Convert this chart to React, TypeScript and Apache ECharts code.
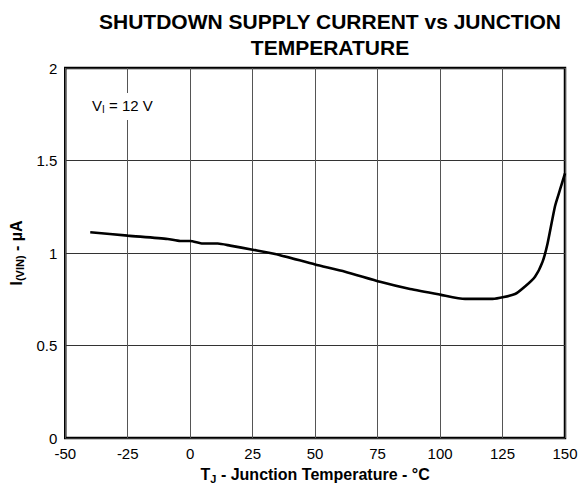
import React, { useEffect, useRef } from "react";
import * as echarts from "echarts";

const temperatureC = [-40, -25, -9, -4, 0, 5, 11, 16, 25, 34, 50, 62, 76, 88, 100, 110, 121, 130, 134, 138, 141, 143, 146, 148, 150];
const supplyCurrentUA = [1.112, 1.094, 1.076, 1.065, 1.065, 1.051, 1.051, 1.04, 1.018, 0.995, 0.938, 0.899, 0.844, 0.805, 0.775, 0.752, 0.752, 0.778, 0.819, 0.872, 0.952, 1.05, 1.253, 1.342, 1.43];
const xTicks = { min: -50, max: 150, interval: 25 };
const yTicks = { min: 0, max: 2, interval: 0.5 };

export default function App() {
  const ref = useRef<HTMLDivElement>(null);
  useEffect(() => {
    if (!ref.current) return;
    const chart = echarts.init(ref.current, null, { renderer: "svg" });
    const font = "'Liberation Sans', Arial, sans-serif";
    const nameRich = {
      b: { fontFamily: font, fontSize: 16, fontWeight: "bold", color: "#000", lineHeight: 19 },
      s: { fontFamily: font, fontSize: 11, fontWeight: "bold", color: "#000", lineHeight: 11, verticalAlign: "bottom", padding: [5, 0, 0, 0] },
    };
    chart.setOption({
      animation: false,
      backgroundColor: "#fff",
      title: {
        text: "SHUTDOWN SUPPLY CURRENT vs JUNCTION\nTEMPERATURE",
        left: 325,
        top: 3,
        textAlign: "center",
        textStyle: { fontFamily: font, fontSize: 21, fontWeight: "bold", color: "#000", lineHeight: 26 },
      },
      grid: { left: 63, right: 16, top: 68, bottom: 45, show: true, borderColor: "#000", borderWidth: 2.5, backgroundColor: "#fff" },
      xAxis: {
        type: "value",
        min: xTicks.min,
        max: xTicks.max,
        interval: xTicks.interval,
        axisLine: { show: false },
        axisTick: { show: false },
        splitLine: { show: true, lineStyle: { color: "#555", width: 1 } },
        axisLabel: { color: "#000", fontFamily: font, fontSize: 15, margin: 8 },
        name: "{b|T}{s|J}{b| - Junction Temperature - °C}",
        nameLocation: "middle",
        nameGap: 27,
        nameTextStyle: { rich: nameRich },
      },
      yAxis: {
        type: "value",
        min: yTicks.min,
        max: yTicks.max,
        interval: yTicks.interval,
        axisLine: { show: false },
        axisTick: { show: false },
        splitLine: { show: true, lineStyle: { color: "#333", width: 1 } },
        axisLabel: { color: "#000", fontFamily: font, fontSize: 15, margin: 8 },
        name: "{b|I}{s|(VIN)}{b| - µA}",
        nameLocation: "middle",
        nameGap: 27,
        nameTextStyle: { rich: nameRich },
      },
      graphic: [
        {
          type: "text",
          left: 89,
          top: 93,
          z: 10,
          style: {
            text: "{n|V}{s|I}{n| = 12 V}",
            backgroundColor: "#fff",
            padding: [4, 3, 6, 3],
            rich: {
              n: { fontFamily: font, fontSize: 15, color: "#000", lineHeight: 17 },
              s: { fontFamily: font, fontSize: 10, color: "#000", lineHeight: 10, verticalAlign: "bottom", padding: [4, 0, 0, 0] },
            },
          },
        },
      ],
      series: [
        {
          type: "line",
          data: temperatureC.map((t, i) => [t, supplyCurrentUA[i]]),
          showSymbol: false,
          smooth: 0.2,
          lineStyle: { color: "#000", width: 2.6 },
          z: 5,
        },
      ],
    });
    return () => chart.dispose();
  }, []);
  return <div ref={ref} style={{ position: "absolute", left: 0, top: 0, width: 581, height: 489 }} />;
}
